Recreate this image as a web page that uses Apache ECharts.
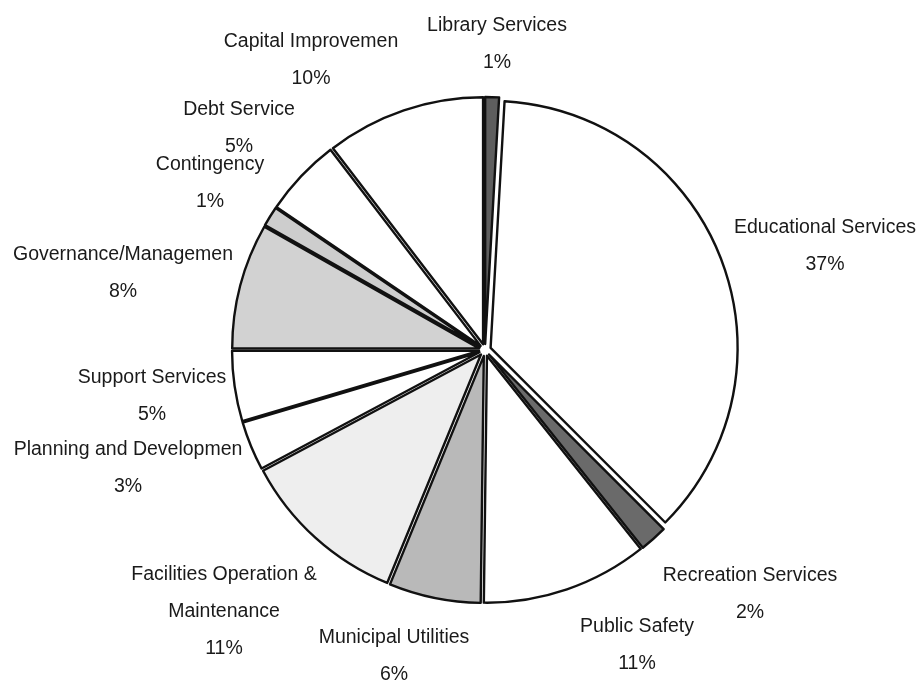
<!DOCTYPE html>
<html>
<head>
<meta charset="utf-8">
<title>Budget Pie</title>
<script src="https://cdn.jsdelivr.net/npm/echarts@6/dist/echarts.min.js"></script>
<style>
	html, body { margin: 0; padding: 0; background: #fff; }
	#BudgetPie { width: 921px; height: 683px; }
</style>
</head>
<body>
<div id="BudgetPie"></div>
<script>
	// slices clockwise from 12 o'clock, shares
	const names = [
		'Library Services',
		'Educational Services',
		'Recreation Services',
		'Public Safety',
		'Municipal Utilities',
		'Facilities Operation &\nMaintenance',
		'Planning and Developmen',
		'Support Services',
		'Governance/Managemen',
		'Contingency',
		'Debt Service',
		'Capital Improvemen'
	]
	const shares = [0.9, 36.6, 1.8, 10.9, 6.0, 11.0, 3.2, 4.6, 8.2, 1.3, 5.1, 10.4]
	const fills = ['#5e5e5e', '#ffffff', '#6a6a6a', '#ffffff', '#b9b9b9', '#eeeeee', '#ffffff', '#ffffff', '#d2d2d2', '#cdcdcd', '#ffffff', '#ffffff']

	// where the original put each label (block centre, px)
	const labelPos = [
		[497, 44], [825, 246], [750, 594], [637, 645], [394, 656], [224, 612],
		[128, 468], [152, 396], [123, 273], [210, 183], [239, 128], [311, 60]
	]

	const chart = echarts.init(document.getElementById('BudgetPie'), null, { renderer: 'canvas' })

	const pieCenter = [485, 350]
	const pieRadius = 247

	const option = {
		backgroundColor: '#fff',
		animation: false,
		textStyle: { fontFamily: 'Liberation Sans, Arial, sans-serif' },
		series: [
			{
				// the exploded slices
				type: 'pie',
				center: pieCenter,
				radius: pieRadius,
				startAngle: 90,
				clockwise: true,
				selectedMode: 'multiple',
				selectedOffset: 6,
				itemStyle: { borderColor: '#111', borderWidth: 2.4 },
				select: { itemStyle: { borderColor: '#111', borderWidth: 2.4 } },
				emphasis: { disabled: true },
				label: { show: false },
				labelLine: { show: false },
				data: names.map((n, i) => ({
					name: n,
					value: shares[i],
					selected: true,
					itemStyle: { color: fills[i] }
				}))
			},
			{
				// same pie, invisible, only carries the labels
				type: 'pie',
				center: pieCenter,
				radius: pieRadius,
				startAngle: 90,
				clockwise: true,
				silent: true,
				selectedMode: false,
				avoidLabelOverlap: false,
				itemStyle: { color: 'rgba(0,0,0,0)', borderWidth: 0 },
				emphasis: { disabled: true },
				label: {
					show: true,
					position: 'outside',
					color: '#1a1a1a',
					fontSize: 19.5,
					lineHeight: 37,
					align: 'center',
					formatter: (p) => p.name + '\n' + Math.round(p.value) + '%'
				},
				labelLine: { show: false },
				labelLayout: (params) => {
					const p = labelPos[params.dataIndex]
					return { x: p[0], y: p[1], align: 'center', verticalAlign: 'middle', hideOverlap: false }
				},
				data: names.map((n, i) => ({ name: n, value: shares[i] }))
			}
		]
	}
	chart.setOption(option)
</script>
</body>
</html>
